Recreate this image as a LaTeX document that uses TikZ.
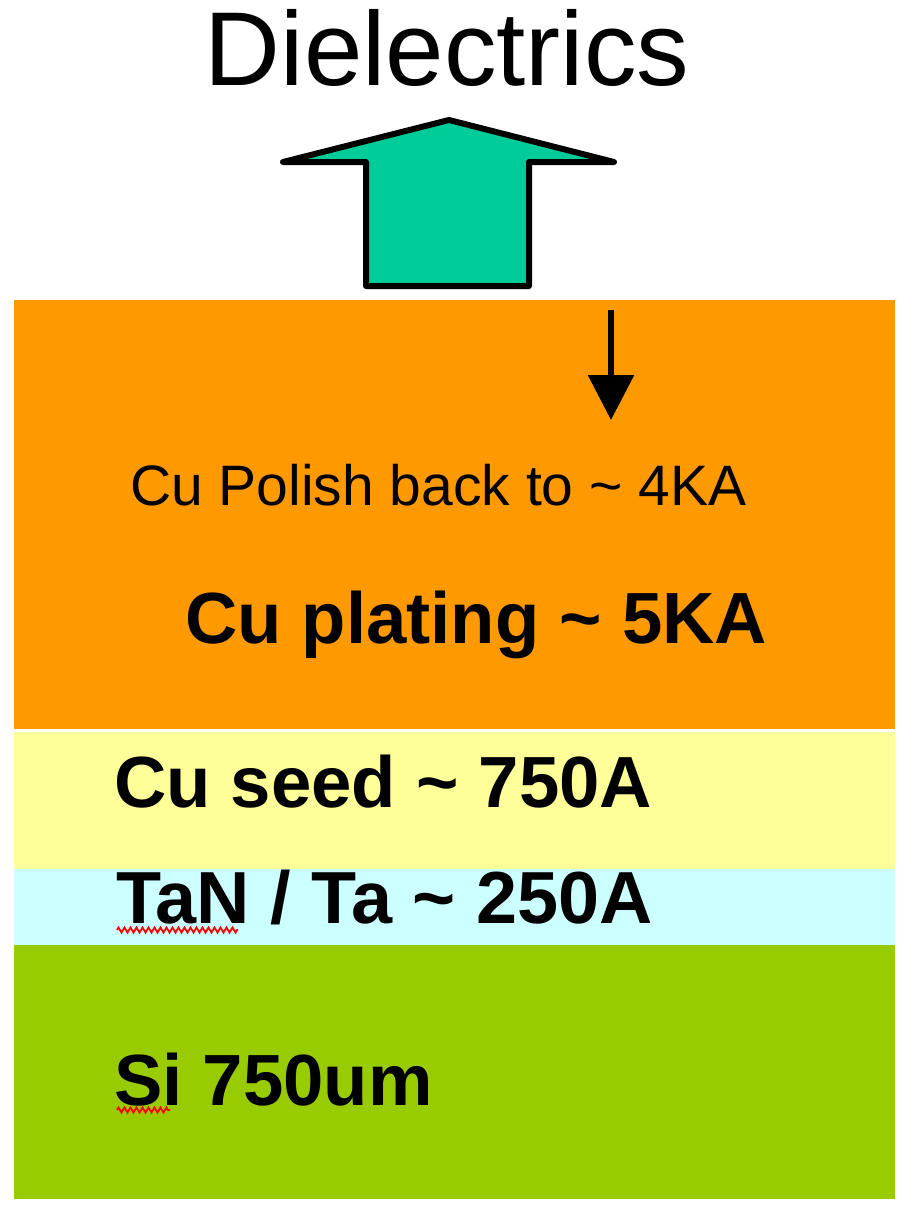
\documentclass[tikz,border=0pt]{standalone}
\usepackage{fontspec}
\setmainfont{Liberation Sans}
\usetikzlibrary{arrows.meta,decorations.pathmorphing}
\definecolor{cuplate}{HTML}{FF9900}
\definecolor{cuseed}{HTML}{FFFF99}
\definecolor{barrier}{HTML}{CCFFFF}
\definecolor{silicon}{HTML}{99CC00}
\definecolor{upgreen}{HTML}{00CC99}

\begin{document}
\begin{tikzpicture}[x=1pt, y=-1pt,
  layer/.style = {inner sep=0pt, anchor=north west, minimum width=881pt},
  lbl/.style = {inner sep=0pt, anchor=base west, font=\bfseries\fontsize{72.5}{72}\selectfont},
  squiggle/.style = {red, line width=1.8pt, decorate, decoration={zigzag, segment length=6pt, amplitude=2.5pt}}]
\useasboundingbox (0,0) rectangle (905,1210);
% stack of layers
\node[layer, fill=cuplate, minimum height=429pt] (plating) at (14,300) {};
\node[layer, fill=cuseed, minimum height=137pt] (seed) at (14,732) {};
\node[layer, fill=barrier, minimum height=76pt] (tan) at (14,869) {};
\node[layer, fill=silicon, minimum height=254pt] (si) at (14,945) {};
% labels
\node[inner sep=0pt, anchor=base, font=\fontsize{105}{105}\selectfont] (diel) at (447,85) {Dielectrics};
\node[inner sep=0pt, anchor=base west, font=\fontsize{57}{57}\selectfont] (polish) at (130,505) {Cu Polish back to \textasciitilde\ 4KA};
\node[lbl] (platetxt) at (185,643) {Cu plating \textasciitilde\ 5KA};
\node[lbl] (seedtxt) at (114,807) {Cu seed \textasciitilde\ 750A};
\node[lbl, font=\bfseries\fontsize{73.8}{72}\selectfont] (tantxt) at (116,923) {TaN / Ta \textasciitilde\ 250A};
\node[lbl] (sitxt) at (114,1105) {Si 750um};
% spell marks
\draw[squiggle] (117,930) -- (238,930);
\draw[squiggle] (117,1110) -- (170,1110);
% big arrow
\draw[line width=6pt, line join=round, fill=upgreen] (366,286) -- (366,162) -- (283,162) -- (449,120)
  -- (614,162) -- (529,162) -- (529,286) -- cycle;
% polish arrow
\coordinate (polTop) at (611,310);
\coordinate (polEnd) at (611,420);
\draw[line width=6pt, -{Triangle[length=45pt, width=45pt]}] (polTop) -- (polEnd);
\end{tikzpicture}
\end{document}
